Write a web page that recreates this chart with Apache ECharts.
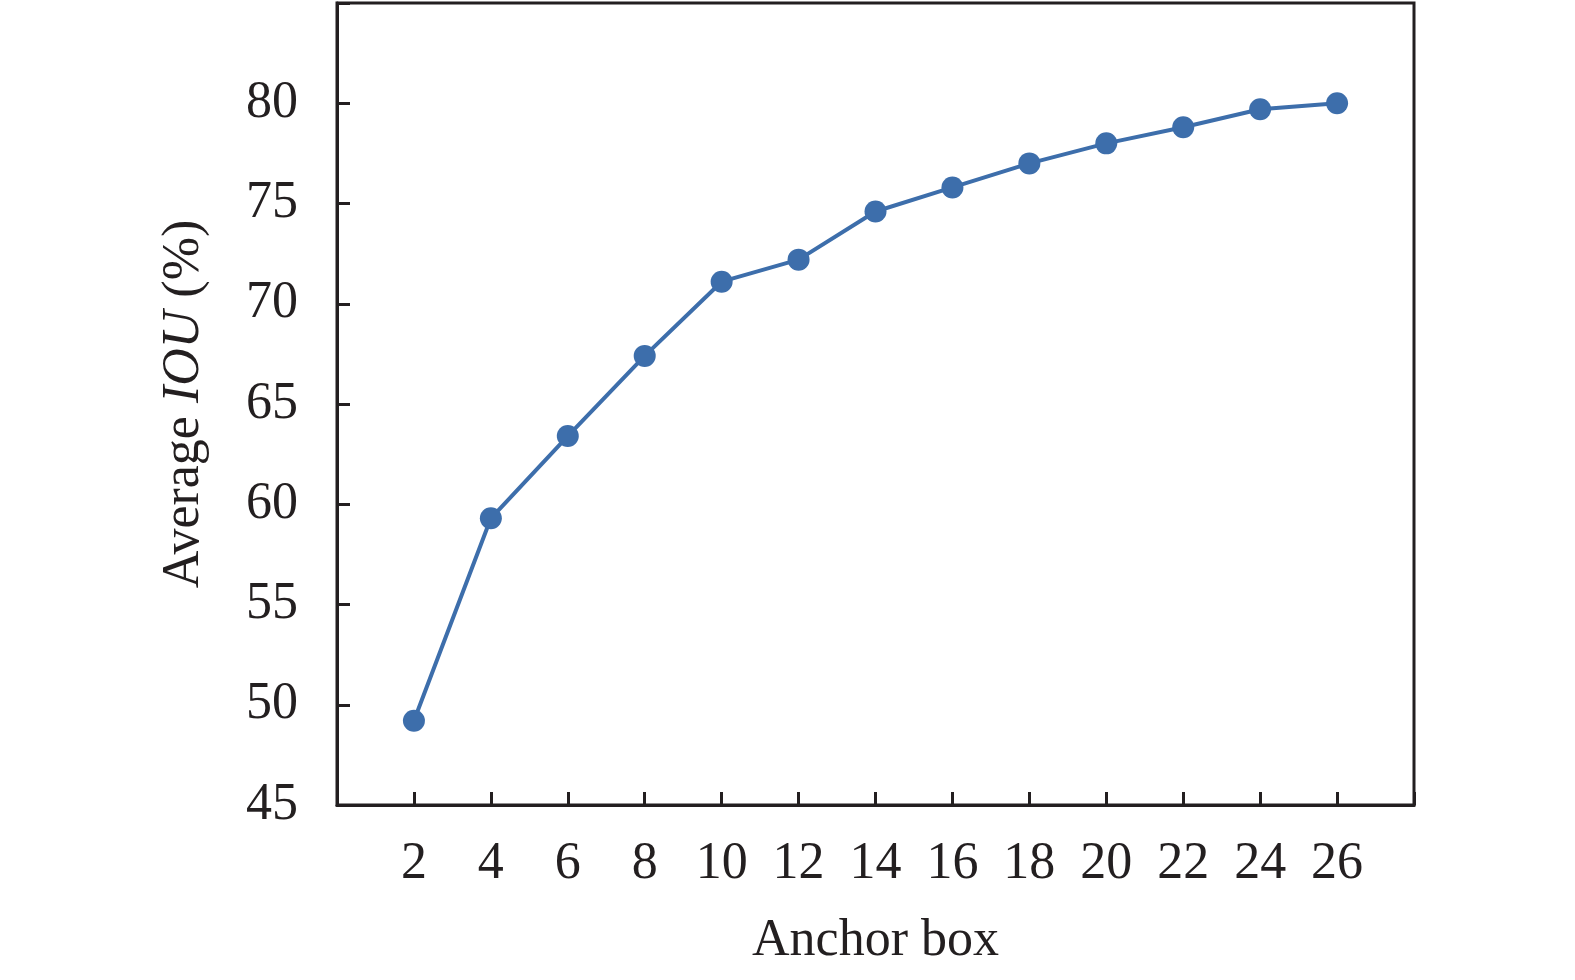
<!DOCTYPE html>
<html>
<head>
<meta charset="utf-8">
<script src="https://cdn.jsdelivr.net/npm/echarts@6/dist/echarts.min.js"></script>
<style>
    html, body { margin: 0; padding: 0; background: #fff; }
    #main { width: 1575px; height: 980px; }
</style>
</head>
<body>
<div id="main"></div>
<script>
var anchorBoxes = [2, 4, 6, 8, 10, 12, 14, 16, 18, 20, 22, 24, 26];
var avgIou = [49.2, 59.3, 63.4, 67.4, 71.1, 72.2, 74.6, 75.8, 77.0, 78.0, 78.8, 79.7, 80.0];

var ink = '#231f20';
var serif = "'Liberation Serif', 'Times New Roman', serif";

var points = [];
for (var i = 0; i < anchorBoxes.length; i++) {
    points.push([anchorBoxes[i], avgIou[i]]);
}

var chart = echarts.init(document.getElementById('main'));
chart.setOption({
    animation: false,
    backgroundColor: '#fff',
    grid: {
        left: 337, right: 161, top: 3, bottom: 175,
        show: true, borderColor: ink, borderWidth: 3
    },
    xAxis: {
        type: 'value',
        min: 0, max: 28, interval: 2,
        name: 'Anchor box',
        nameLocation: 'middle',
        nameGap: 110,
        nameTextStyle: { fontFamily: serif, fontSize: 52, color: ink },
        axisLine: { show: true, lineStyle: { color: ink, width: 3 } },
        axisTick: { show: true, inside: true, length: 13, lineStyle: { color: ink, width: 3 } },
        splitLine: { show: false },
        axisLabel: {
            margin: 33,
            fontFamily: serif, fontSize: 52, color: ink,
            formatter: function (v) { return (v === 0 || v === 28) ? '' : v; }
        }
    },
    yAxis: {
        type: 'value',
        min: 45, max: 85, interval: 5,
        name: 'Average {i|IOU} (%)',
        nameLocation: 'middle',
        nameGap: 127,
        nameTextStyle: {
            fontFamily: serif, fontSize: 52, color: ink,
            rich: { i: { fontFamily: serif, fontSize: 52, fontStyle: 'italic', color: ink } }
        },
        axisLine: { show: true, lineStyle: { color: ink, width: 3 } },
        axisTick: { show: true, inside: true, length: 13, lineStyle: { color: ink, width: 3 } },
        splitLine: { show: false },
        axisLabel: {
            margin: 39,
            fontFamily: serif, fontSize: 52, color: ink,
            formatter: function (v) { return v === 85 ? '' : v; }
        }
    },
    series: [{
        type: 'line',
        data: points,
        symbol: 'circle',
        symbolSize: 22,
        lineStyle: { color: '#3d6eab', width: 4 },
        itemStyle: { color: '#3d6eab' }
    }]
});
</script>
</body>
</html>
